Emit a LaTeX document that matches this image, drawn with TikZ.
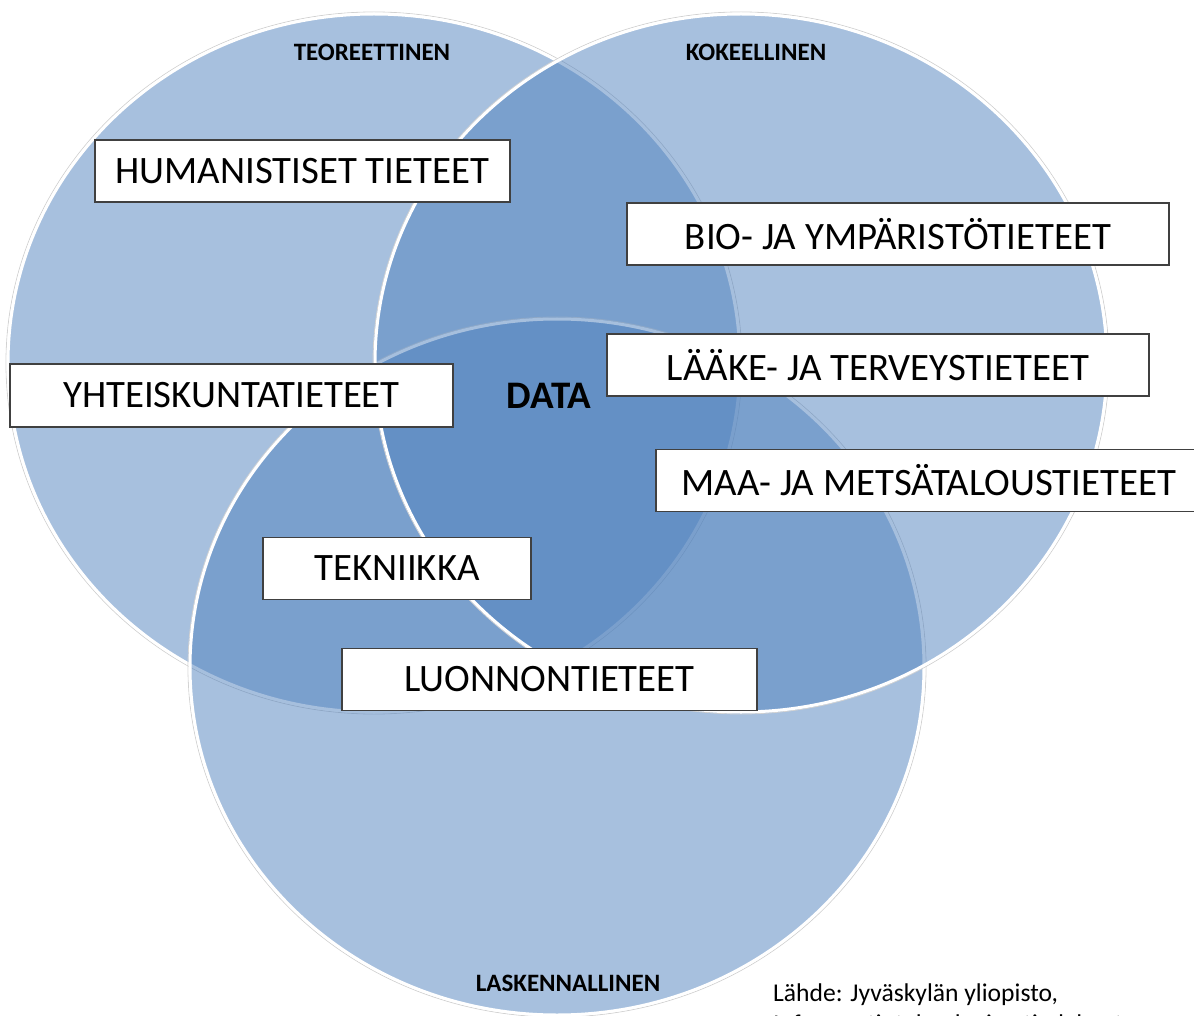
\documentclass[tikz,border=0pt]{standalone}
\usepackage{fontspec}
\setmainfont{Carlito}
\definecolor{vennblue}{HTML}{4F81BD}
\definecolor{boxline}{HTML}{404040}
\begin{document}
\begin{tikzpicture}[x=1pt,y=-1pt,
  vennfill/.style={fill=vennblue, fill opacity=0.5},
  vennrim/.style={draw=white, line width=3},
  vennhalo/.style={draw=black!18, line width=0.8},
  field/.style={draw=boxline, line width=1.3, fill=white, minimum height=62,
    inner sep=0pt, text=black, font=\fontsize{38.8}{44}\selectfont},
  axis/.style={font=\bfseries\fontsize{25}{30}\selectfont, text=black, inner sep=0pt},
  core/.style={font=\bfseries\fontsize{39}{44}\selectfont, text=black, inner sep=0pt},
  source/.style={font=\fontsize{25.6}{31}\selectfont, text=black, inner sep=0pt,
    anchor=base west}]
\useasboundingbox (0,0) rectangle (1194,1016);

% three overlapping sets, drawn left, bottom, right
\path[vennhalo] (374,363) ellipse [x radius=368, y radius=351];
\path[vennfill] (374,363) ellipse [x radius=366, y radius=349];
\path[vennrim]  (374,363) ellipse [x radius=366, y radius=349];

\path[vennhalo] (557,667) ellipse [x radius=369, y radius=350];
\path[vennfill] (557,667) ellipse [x radius=367, y radius=348];
\path[vennrim]  (557,667) ellipse [x radius=367, y radius=348];

\path[vennhalo] (741,363) ellipse [x radius=368, y radius=351];
\path[vennfill] (741,363) ellipse [x radius=366, y radius=349];
\path[vennrim]  (741,363) ellipse [x radius=366, y radius=349];

% set titles
\node[axis] (teo) at (372,52) {TEOREETTINEN};
\node[axis] (kok) at (756,52) {KOKEELLINEN};
\node[axis] (las) at (568,983) {LASKENNALLINEN};

% fields of science
\node[field, minimum width=415] (hum) at (302.5,171) {HUMANISTISET TIETEET};
\node[field, minimum width=542] (bio) at (898,234) {BIO- JA YMPÄRISTÖTIETEET};
\node[field, minimum width=542] (laa) at (878,365) {LÄÄKE- JA TERVEYSTIETEET};
\node[field, minimum width=443, minimum height=63] (yht) at (231.5,395.5) {YHTEISKUNTATIETEET};
\node[field, minimum width=546] (maa) at (929,480.5) {MAA- JA METSÄTALOUSTIETEET};
\node[field, minimum width=268] (tek) at (397,568.5) {TEKNIIKKA};
\node[field, minimum width=415] (luo) at (549.5,679.5) {LUONNONTIETEET};

% common centre
\node[core] (data) at (549,396) {DATA};

% source note, two lines
\node[source] (src1) at (773,1001) {Lähde: Jyväskylän yliopisto,};
\node[source] (src2) at (773,1032) {Informaatioteknologian tiedekunta};
\end{tikzpicture}
\end{document}
